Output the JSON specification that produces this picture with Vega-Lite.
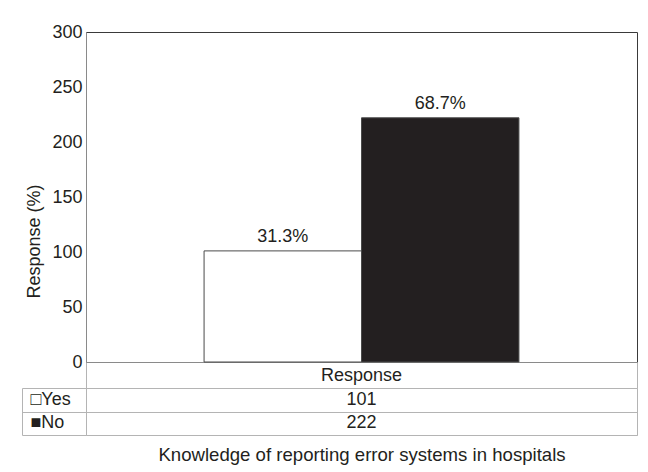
{
  "$schema": "https://vega.github.io/schema/vega-lite/v6.json",
  "padding": {"left": 21, "top": 22, "right": 5, "bottom": 5},
  "background": "white",
  "bounds": "flush",
  "spacing": 26,
  "config": {
    "font": "Liberation Sans",
    "axis": {
      "labelFont": "Liberation Sans",
      "titleFont": "Liberation Sans",
      "labelColor": "#231f20",
      "titleColor": "#231f20",
      "labelFontSize": 18,
      "titleFontSize": 18,
      "titleFontWeight": "normal"
    }
  },
  "vconcat": [
    {
      "width": 551,
      "height": 330,
      "data": {"values": [
        {"group": "Response", "answer": "Yes", "count": 101, "label": "31.3%"},
        {"group": "Response", "answer": "No", "count": 222, "label": "68.7%"}
      ]},
      "view": {"stroke": "#3a3a3a", "strokeWidth": 1},
      "encoding": {
        "xOffset": {
          "field": "answer", "type": "nominal", "sort": ["Yes", "No"],
          "scale": {"paddingInner": 0, "paddingOuter": 0.75}
        },
        "y": {
          "field": "count", "type": "quantitative",
          "scale": {"domain": [0, 300]},
          "axis": {"title": "Response (%)", "values": [0, 50, 100, 150, 200, 250, 300], "grid": false, "ticks": false, "labelPadding": 4, "domainColor": "#8a8a8a", "titlePadding": 8, "titleY": 209}
        }
      },
      "layer": [
        {
          "mark": {"type": "bar", "stroke": "#4a4a4a", "strokeWidth": 1},
          "encoding": {
            "x": {
              "field": "group", "type": "nominal",
              "scale": {"paddingInner": 0, "paddingOuter": 0},
              "axis": {"title": null, "labelAngle": 0, "ticks": false, "domainColor": "#8a8a8a", "labelPadding": 13, "labelBaseline": "middle", "grid": false}
            },
            "fill": {"field": "answer", "type": "nominal", "scale": {"domain": ["Yes", "No"], "range": ["#ffffff", "#231f20"]}, "legend": null}
          }
        },
        {
          "mark": {"type": "text", "baseline": "alphabetic", "dy": -9, "fontSize": 18, "color": "#231f20"},
          "encoding": {
            "x": {
              "field": "group", "type": "nominal",
              "axis": {"title": null, "orient": "bottom", "labels": false, "tickBand": "extent", "tickSize": 26, "tickColor": "#b4b4b4", "domain": false, "grid": false}
            },
            "text": {"field": "label"}
          }
        }
      ],
      "resolve": {"axis": {"x": "independent"}}
    },
    {
      "width": 551,
      "height": 47,
      "data": {"values": [
        {"group": "Response", "answer": "Yes", "count": 101},
        {"group": "Response", "answer": "No", "count": 222}
      ]},
      "view": {"stroke": "#b4b4b4", "strokeWidth": 1},
      "encoding": {
        "x": {
          "field": "group", "type": "nominal",
          "scale": {"paddingInner": 0, "paddingOuter": 0},
          "axis": {"title": "Knowledge of reporting error systems in hospitals", "titleFontSize": 18.6, "labels": false, "ticks": false, "domain": false, "titlePadding": 10}
        }
      },
      "layer": [
        {
          "mark": {"type": "text", "fontSize": 18, "color": "#231f20"},
          "encoding": {
            "text": {"field": "count"},
            "y": {
              "field": "answer", "type": "nominal", "sort": ["Yes", "No"],
              "scale": {"paddingInner": 0, "paddingOuter": 0},
              "axis": {"title": null, "orient": "left", "ticks": false, "grid": false, "domain": false, "labelAlign": "left", "labelPadding": 56, "labelBaseline": "middle", "labelExpr": "datum.value == 'Yes' ? '□Yes' : '■No'"}
            }
          }
        },
        {
          "mark": {"type": "text", "opacity": 0},
          "encoding": {
            "text": {"field": "count"},
            "y": {
              "field": "answer", "type": "nominal", "sort": ["Yes", "No"],
              "axis": {"title": null, "orient": "left", "labels": false, "tickBand": "extent", "tickSize": 64, "tickColor": "#b4b4b4", "grid": true, "gridColor": "#b4b4b4", "domain": false}
            }
          }
        },
        {
          "mark": {"type": "text", "opacity": 0},
          "encoding": {
            "text": {"field": "count"},
            "y": {
              "field": "answer", "type": "nominal", "sort": ["Yes", "No"],
              "axis": {"title": null, "orient": "left", "offset": 64, "labels": false, "ticks": false, "grid": false, "domain": true, "domainColor": "#b4b4b4"}
            }
          }
        }
      ],
      "resolve": {"axis": {"y": "independent"}}
    }
  ]
}
